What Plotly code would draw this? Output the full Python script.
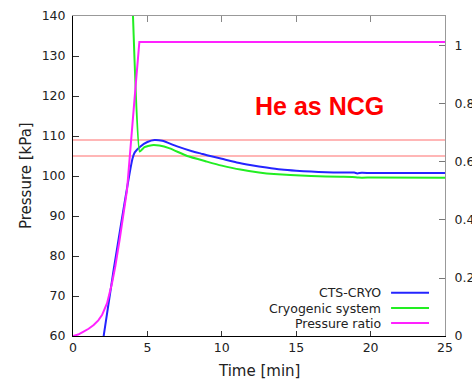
import plotly.graph_objects as go

# ---- data ----
cts_t = [2.0, 2.73, 4.0, 4.15, 4.53, 5.0, 5.47, 6.0, 7.0, 8.0, 8.6, 9.0, 10.0, 11.0, 12.0,
         13.0, 14.0, 15.0, 16.0, 17.0, 18.0, 18.9, 19.1, 19.4, 20.0, 22.0, 25.0]
cts_p = [58.5, 76.5, 104.4, 105.9, 107.4, 108.5, 109.0, 108.8, 107.4, 106.2, 105.6, 105.2,
         104.3, 103.4, 102.7, 102.1, 101.6, 101.3, 101.1, 100.95, 100.85, 100.85, 100.65,
         100.8, 100.75, 100.75, 100.75]

cryo_t = [3.95, 4.03, 4.48, 4.8, 5.3, 5.8, 6.5, 7.67, 9.0, 10.0, 11.25, 12.5, 13.5, 14.6,
          16.0, 18.0, 19.0, 19.2, 20.0, 25.0]
cryo_p = [146.0, 140.0, 106.1, 107.2, 107.7, 107.6, 106.9, 105.0, 103.6, 102.6, 101.6, 100.9,
          100.5, 100.25, 100.0, 99.8, 99.7, 99.6, 99.6, 99.55]

ratio_t = [0.0, 0.35, 0.71, 1.05, 1.39, 1.7, 1.95, 2.29, 2.62, 2.84, 3.13, 3.63, 4.19, 4.46, 25.0]
ratio_v = [0.0, 0.005, 0.015, 0.025, 0.038, 0.054, 0.072, 0.113, 0.182, 0.239, 0.331, 0.503,
           0.851, 1.014, 1.014]

limit_levels = [109.0, 105.0]
time_span = [0.0, 25.0]

x_ticks = [0, 5, 10, 15, 20, 25]
y_ticks = [60, 70, 80, 90, 100, 110, 120, 130, 140]
y2_ticks = [0, 0.2, 0.4, 0.6, 0.8, 1.0]
y2_labels = ["0", "0.2", "0.4", "0.6", "0.8", "1"]

series_names = ["CTS-CRYO", "Cryogenic system", "Pressure ratio"]
colors = ["#2424ff", "#22ee22", "#ff22ff"]

FONT = "DejaVu Sans"

fig = go.Figure()

for lvl in limit_levels:
    fig.add_trace(go.Scatter(x=time_span, y=[lvl, lvl], mode="lines",
                             line=dict(color="rgb(255,110,110)", width=1.2),
                             showlegend=False, hoverinfo="skip"))

fig.add_trace(go.Scatter(x=cts_t, y=cts_p, mode="lines", name=series_names[0],
                         line=dict(color=colors[0], width=2, shape="spline", smoothing=0.6),
                         showlegend=False))
fig.add_trace(go.Scatter(x=cryo_t, y=cryo_p, mode="lines", name=series_names[1],
                         line=dict(color=colors[1], width=2, shape="spline", smoothing=0.4),
                         showlegend=False))
fig.add_trace(go.Scatter(x=ratio_t, y=ratio_v, mode="lines", name=series_names[2],
                         line=dict(color=colors[2], width=2), yaxis="y2", showlegend=False))

# dummy trace to make the top axis exist
fig.add_trace(go.Scatter(x=[None], y=[None], xaxis="x2", showlegend=False, hoverinfo="skip"))

W, H = 472, 382
L, R, T, B = 72.5, 27, 16, 46
pw, ph = W - L - R, H - T - B

def px(x):
    return (x - L) / pw

def py(y):
    return (H - B - y) / ph

tickfont = dict(family=FONT, size=12.5, color="#222222")

fig.update_layout(
    width=W, height=H,
    margin=dict(l=L, r=R, t=T, b=B, pad=0, autoexpand=False),
    paper_bgcolor="white", plot_bgcolor="white",
    font=dict(family=FONT, size=12.5, color="#222222"),
    xaxis=dict(range=[0, 25], tickvals=x_ticks, ticks="inside", ticklen=5,
               tickcolor="#333", showline=True, linecolor="black", linewidth=1,
               showgrid=False, zeroline=False, tickfont=tickfont, automargin=False),
    xaxis2=dict(range=[0, 25], overlaying="x", side="top", tickvals=[5, 10, 15, 20],
                ticks="inside", ticklen=6, tickcolor="#888", showticklabels=False,
                showline=True, linecolor="#999999", linewidth=1, showgrid=False,
                zeroline=False, automargin=False),
    yaxis=dict(range=[60, 140], tickvals=y_ticks, ticks="inside", ticklen=6,
               tickcolor="#333", showline=True, linecolor="black", linewidth=1,
               showgrid=False, zeroline=False, tickfont=tickfont, ticklabelstandoff=4,
               automargin=False),
    yaxis2=dict(range=[0, 1.1034], overlaying="y", side="right", tickvals=y2_ticks,
                ticktext=y2_labels, ticks="inside", ticklen=6, tickcolor="#777",
                showline=True, linecolor="#999999", linewidth=1, showgrid=False,
                zeroline=False, tickfont=tickfont, ticklabelstandoff=6, automargin=False),
)

# axis titles
fig.add_annotation(x=px(258.5), y=py(371), xref="paper", yref="paper", text="Time [min]",
                   showarrow=False, xanchor="center", yanchor="middle",
                   font=dict(family=FONT, size=15, color="#222"))
fig.add_annotation(x=px(25.5), y=py(176), xref="paper", yref="paper", text="Pressure [kPa]",
                   showarrow=False, xanchor="center", yanchor="middle", textangle=-90,
                   font=dict(family=FONT, size=15, color="#222"))

# title text
fig.add_annotation(x=px(319.5), y=py(106), xref="paper", yref="paper",
                   text="<b>He as NCG</b>", showarrow=False,
                   font=dict(family="Liberation Sans", size=25, color="#ff0000"),
                   xanchor="center", yanchor="middle")

# custom legend (text left of line, gnuplot-style)
leg_y = [292.7, 308, 323]
for name, col, yy in zip(series_names, colors, leg_y):
    fig.add_annotation(x=px(383), y=py(yy), xref="paper", yref="paper", text=name,
                       showarrow=False, xanchor="right", yanchor="middle",
                       font=dict(family=FONT, size=12.5, color="#222"))
    fig.add_shape(type="line", xref="paper", yref="paper",
                  x0=px(391), x1=px(429), y0=py(yy), y1=py(yy),
                  line=dict(color=col, width=2))

fig.write_html("out.html")
